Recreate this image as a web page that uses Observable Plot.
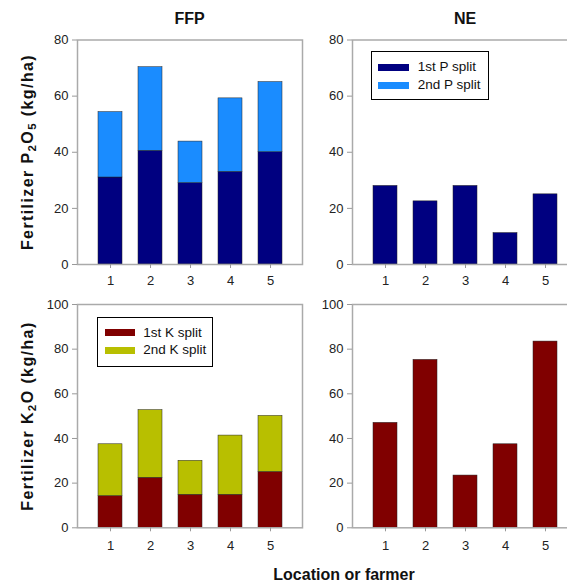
<!DOCTYPE html>
<html><head><meta charset="utf-8">
<script src="https://cdn.jsdelivr.net/npm/d3@7"></script>
<script src="https://cdn.jsdelivr.net/npm/@observablehq/plot@0.6"></script>
<style>
body{margin:0;background:#fff;}
#fig{position:relative;width:567px;height:583px;overflow:hidden;font-family:"Liberation Sans",Arial,sans-serif;background:#fff;color:#111;}
.abs{position:absolute;}
.title{font-weight:bold;font-size:16px;white-space:nowrap;transform:translate(-50%,-50%);}
.ytitle{font-weight:bold;font-size:16px;letter-spacing:1.4px;white-space:nowrap;transform:translate(-50%,-50%) rotate(-90deg);}
.ytitle sub{font-size:0.72em;vertical-align:-0.3em;line-height:0;}
.legend{border:1px solid #000;background:#fff;box-sizing:border-box;}
.sw{position:absolute;height:7px;}
.lt{position:absolute;font-size:13.5px;height:18px;line-height:18px;white-space:nowrap;color:#111;}
</style></head><body><div id="fig"></div>
<script>
const locations = [1, 2, 3, 4, 5];
const ffpP1 = [31, 40.5, 29, 33, 40];
const ffpP2 = [23.3, 29.8, 14.8, 26.2, 25];
const neP1 = [28, 22.5, 28, 11.2, 25];
const ffpK1 = [14.2, 22.4, 14.8, 14.8, 25];
const ffpK2 = [23.2, 30.3, 15.2, 26.5, 25.1];
const neK1 = [47, 75.2, 23.4, 37.4, 83.4];
const pTicks = [0, 20, 40, 60, 80];
const kTicks = [0, 20, 40, 60, 80, 100];
const pSeries = ["1st P split", "2nd P split"];
const kSeries = ["1st K split", "2nd K split"];
const pColors = ["#000080", "#1a8cff"];
const kColors = ["#800000", "#b8bf00"];

function rows(series, ...arrays) {
  const out = [];
  arrays.forEach((arr, j) => arr.forEach((v, i) => out.push({loc: locations[i], split: series[j], value: v})));
  return out;
}

const fig = document.getElementById("fig");

function panel({data, series, colors, ticks, left, top, height, ml, mr, mt, mb, pad}) {
  const width = ml + mr + 225;
  const svg = Plot.plot({
    width, height, marginLeft: ml, marginRight: mr, marginTop: mt, marginBottom: mb,
    x: {type: "band", domain: locations, paddingInner: 0.41, paddingOuter: 0.475, label: null},
    y: {domain: [0, ticks[ticks.length - 1]], label: null},
    color: {domain: series, range: colors},
    style: {fontFamily: '"Liberation Sans", Arial, sans-serif', fontSize: "13px", color: "#222", background: "transparent", overflow: "visible"},
    marks: [
      Plot.barY(data, {x: "loc", y: "value", fill: "split", stroke: "#222", strokeWidth: 0.5}),
      Plot.frame({stroke: "#aaa", strokeWidth: 1.5}),
      Plot.axisX({tickSize: 4, tickPadding: pad, stroke: "#999", fill: "#222", fontSize: 13}),
      Plot.axisY({ticks, tickSize: 5, tickPadding: 4, stroke: "#999", fill: "#222", fontSize: 13})
    ]
  });
  svg.style.position = "absolute";
  svg.style.left = left + "px";
  svg.style.top = top + "px";
  svg.style.maxWidth = "none";
  fig.appendChild(svg);
}

panel({data: rows(pSeries, ffpP1, ffpP2), series: pSeries, colors: pColors, ticks: pTicks,
  left: 0, top: 0, height: 290, ml: 77, mr: 8, mt: 39.5, mb: 26, pad: 7});
panel({data: rows(pSeries, neP1), series: pSeries, colors: pColors, ticks: pTicks,
  left: 280, top: 0, height: 290, ml: 72, mr: 12, mt: 39.5, mb: 26, pad: 7});
panel({data: rows(kSeries, ffpK1, ffpK2), series: kSeries, colors: kColors, ticks: kTicks,
  left: 0, top: 290, height: 270, ml: 77, mr: 8, mt: 14, mb: 32.7, pad: 8.5});
panel({data: rows(kSeries, neK1), series: kSeries, colors: kColors, ticks: kTicks,
  left: 280, top: 290, height: 270, ml: 72, mr: 12, mt: 14, mb: 32.7, pad: 8.5});

function addText(html, cls, x, y) {
  const d = document.createElement("div");
  d.className = "abs " + cls;
  d.style.left = x + "px";
  d.style.top = y + "px";
  d.innerHTML = html;
  fig.appendChild(d);
}
addText("FFP", "title", 189.5, 19);
addText("NE", "title", 465, 19);
addText("Fertilizer P<sub>2</sub>O<sub>5</sub> (kg/ha)", "ytitle", 27.5, 152);
addText("Fertilizer K<sub>2</sub>O (kg/ha)", "ytitle", 27.5, 415.5);
addText("Location or farmer", "title", 344, 575);

function legend(series, colors, x, y, w, h, swx, sww, txx, rowsY) {
  const box = document.createElement("div");
  box.className = "abs legend";
  Object.assign(box.style, {left: x + "px", top: y + "px", width: w + "px", height: h + "px"});
  series.forEach((s, i) => {
    const sw = document.createElement("div");
    sw.className = "sw";
    Object.assign(sw.style, {left: (swx - 1) + "px", top: (rowsY[i] - 1 - 3.5) + "px", width: sww + "px", background: colors[i]});
    box.appendChild(sw);
    const t = document.createElement("div");
    t.className = "lt";
    Object.assign(t.style, {left: (txx - 1) + "px", top: (rowsY[i] - 1 - 9) + "px"});
    t.textContent = s;
    box.appendChild(t);
  });
  fig.appendChild(box);
}
legend(pSeries, pColors, 370.7, 51, 118.6, 49, 7.3, 31, 47, [16.3, 34.3]);
legend(kSeries, kColors, 96.7, 316.7, 116.6, 50, 8.3, 30, 46.6, [16.3, 33.6]);
</script></body></html>
